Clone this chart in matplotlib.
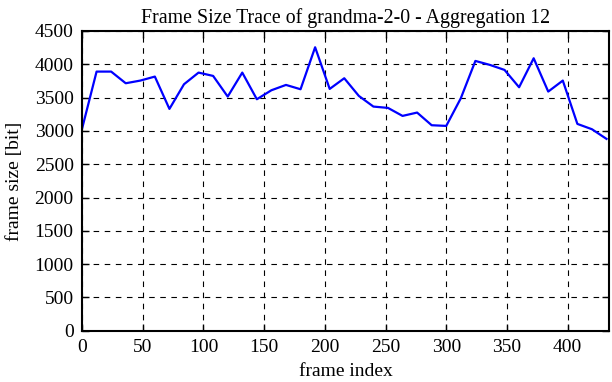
import numpy as np
import matplotlib.pyplot as plt

# aggregated trace, one value per 12 frames
frames = np.arange(0, 433, 12)
sizes = [3030, 3890, 3890, 3715, 3755, 3815, 3330, 3700, 3875, 3825,
         3515, 3875, 3475, 3610, 3690, 3625, 4255, 3630, 3790, 3525,
         3365, 3345, 3225, 3275, 3085, 3075, 3490, 4050, 3990, 3915,
         3655, 4090, 3590, 3755, 3105, 3025, 2880]

plt.rcParams['font.family'] = ['Liberation Serif', 'DejaVu Serif']
plt.rcParams['font.size'] = 14

fig = plt.figure(figsize=(6.12, 3.82), dpi=100)
ax = fig.add_axes([0.134, 0.134, 0.861, 0.785])
ax.plot(frames, sizes, color='#0000ff', lw=1.6)

ax.set_xlim(0, 434)
ax.set_ylim(0, 4500)
ax.set_xticks(np.arange(0, 401, 50))
ax.set_yticks(np.arange(0, 4501, 500))
ax.grid(True, color='black', linestyle=(0, (5, 5)), lw=0.8)
ax.tick_params(direction='in', top=True, right=True, length=5, width=1)
ax.tick_params(axis='x', pad=6)
ax.tick_params(axis='y', pad=6)
for s in ax.spines.values():
    s.set_linewidth(1.5)

ax.set_xlabel('frame index', labelpad=5)
ax.set_ylabel('frame size [bit]', labelpad=8)
ax.set_title('Frame Size Trace of grandma-2-0 - Aggregation 12', fontsize=14.3, pad=6)

fig.savefig('out.png', dpi=100)
